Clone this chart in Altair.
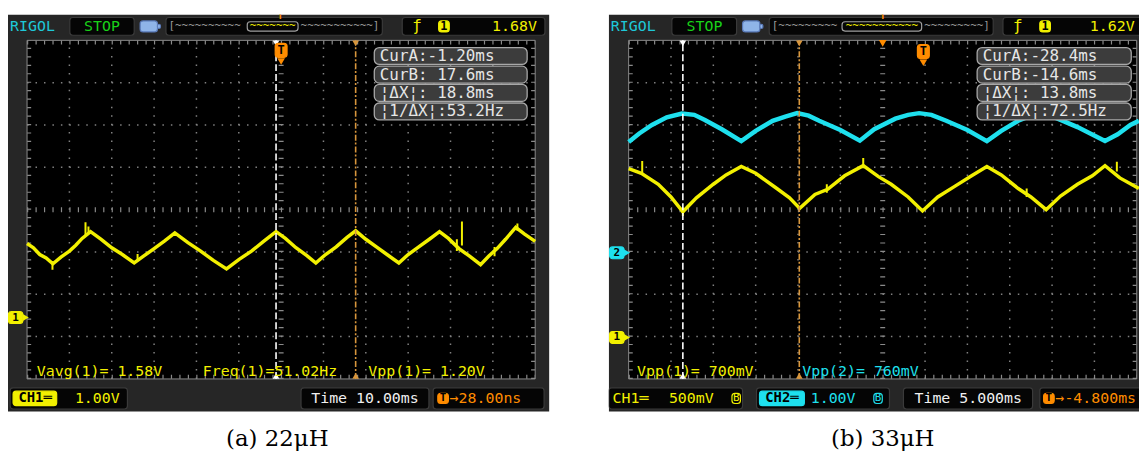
import altair as alt
import pandas as pd

FONT = "DejaVu Sans Mono"
YEL = "#f2f000"
CYAN = "#1ee0ee"
ORANGE = "#ff8c00"
TAN = "#d8963c"

# ================= DATA (in scope grid divisions) =================
# (a) 22 uH : 10 ms/div, CH1 1.00 V/div
a_ch1_t = [-6.00, -5.85, -5.70, -5.55, -5.39, -5.20, -5.00, -4.85, -4.70, -4.50, -4.25, -4.00, -3.75,
           -3.47, -3.25, -3.00, -2.75, -2.51, -2.20, -1.90, -1.60, -1.29, -1.00, -0.70, -0.40, -0.12,
           0.10, 0.35, 0.60, 0.82, 1.05, 1.30, 1.55, 1.76, 2.00, 2.25, 2.50, 2.78, 3.00, 3.25, 3.50,
           3.74, 3.95, 4.20, 4.45, 4.71, 4.90, 5.10, 5.30, 5.54, 5.75, 6.00]
a_ch1_v = [-0.80, -0.90, -1.06, -1.14, -1.28, -1.12, -0.98, -0.84, -0.68, -0.52, -0.70, -0.90, -1.06,
           -1.26, -1.10, -0.92, -0.74, -0.55, -0.78, -0.98, -1.20, -1.40, -1.18, -0.98, -0.74, -0.52,
           -0.68, -0.90, -1.08, -1.26, -1.06, -0.88, -0.66, -0.50, -0.70, -0.88, -1.06, -1.26, -1.06,
           -0.88, -0.70, -0.52, -0.68, -0.92, -1.10, -1.30, -1.10, -0.92, -0.70, -0.42, -0.58, -0.75]
a_spk_t = [-5.40, -4.62, -4.55, -3.39, 4.15, 4.27, 5.04, 5.58]
a_spk_lo = [-1.42, -0.62, -0.55, -1.22, -0.98, -0.85, -1.10, -0.50]
a_spk_hi = [-1.22, -0.30, -0.40, -1.05, -0.70, -0.28, -0.88, -0.33]
a_cursor_t = [-0.12, 1.76]
a_cur_text = ["CurA:-1.20ms", "CurB: 17.6ms", "¦ΔX¦: 18.8ms", "¦1/ΔX¦:53.2Hz"]
a_meas = ["Vavg(1)= 1.58V", "Freq(1)=51.02Hz", "Vpp(1)= 1.20V"]
a_trig = "1.68V"
a_time = "Time 10.00ms"
a_offs = "→28.00ns"
a_caption = "(a) 22μH"

# (b) 33 uH : 5 ms/div, CH1 500 mV/div, CH2 1.00 V/div
b_ch2_t = [-6.00, -5.75, -5.45, -5.10, -4.74, -4.45, -4.20, -3.80, -3.34, -3.00, -2.60, -2.30,
           -2.02, -1.75, -1.50, -1.00, -0.54, -0.20, 0.30, 0.60, 0.86, 1.15, 1.50, 2.00,
           2.46, 2.80, 3.20, 3.50, 3.82, 4.20, 4.60, 5.25, 5.55, 5.85, 6.05]
b_ch2_v = [1.60, 1.80, 2.00, 2.18, 2.27, 2.24, 2.12, 1.90, 1.62, 1.86, 2.10, 2.20,
           2.28, 2.22, 2.10, 1.88, 1.63, 1.90, 2.15, 2.24, 2.28, 2.24, 2.10, 1.88,
           1.62, 1.86, 2.10, 2.22, 2.28, 2.12, 1.95, 1.62, 1.78, 2.00, 2.10]
b_ch1_t = [-6.00, -5.70, -5.30, -5.00, -4.72, -4.40, -4.00, -3.70, -3.34, -3.00, -2.50, -2.20,
           -1.96, -1.60, -1.30, -0.90, -0.46, -0.10, 0.20, 0.60, 0.94, 1.30, 1.70, 2.10,
           2.46, 2.80, 3.20, 3.50, 3.86, 4.20, 4.60, 4.95, 5.25, 5.60, 6.05]
b_ch1_v = [0.97, 0.86, 0.60, 0.30, -0.05, 0.28, 0.60, 0.82, 1.02, 0.86, 0.50, 0.28,
           0.03, 0.36, 0.48, 0.80, 1.04, 0.78, 0.60, 0.30, -0.03, 0.30, 0.55, 0.80,
           1.02, 0.82, 0.50, 0.30, 0.00, 0.32, 0.60, 0.80, 1.04, 0.75, 0.50]
b_spk_t = [-5.68, -4.72, -1.32, -0.46, 3.40, 5.53]
b_spk_lo = [0.85, -0.15, 0.40, 0.98, 0.30, 0.90]
b_spk_hi = [1.15, 0.05, 0.60, 1.22, 0.50, 1.13]
b_cursor_t = [-4.72, -1.97]
b_cur_text = ["CurA:-28.4ms", "CurB:-14.6ms", "¦ΔX¦: 13.8ms", "¦1/ΔX¦:72.5Hz"]
b_meas = ["Vpp(1)= 700mV", "Vpp(2)= 760mV"]
b_trig = "1.62V"
b_time = "Time 5.000ms"
b_offs = "→-4.800ms"
b_caption = "(b) 33μH"

# ================= LAYOUT (scope geometry in divisions) =================
YDOM = [-5.76, 4.61]
HEIGHT = 442
FRAME_Y = (-4.77, 4.61)


def build_panel(P):
    xs = alt.Scale(domain=P["xdom"], nice=False, zero=False)
    ys = alt.Scale(domain=YDOM, nice=False, zero=False)
    X = lambda f: alt.X(f, type="quantitative", scale=xs, axis=None)
    Y = lambda f: alt.Y(f, type="quantitative", scale=ys, axis=None)

    def rects(rows, corner=0, sw=1.0):
        df = pd.DataFrame(rows, columns=["x", "x2", "y", "y2", "fill", "stroke"])
        return alt.Chart(df).mark_rect(cornerRadius=corner, strokeWidth=sw, opacity=1, clip=True).encode(
            x=X("x"), x2="x2", y=Y("y"), y2="y2",
            fill=alt.Fill("fill:N", scale=None), stroke=alt.Stroke("stroke:N", scale=None))

    def rules(rows, color, width, dash=None):
        df = pd.DataFrame(rows, columns=["x", "x2", "y", "y2"])
        kw = dict(color=color, strokeWidth=width, clip=True)
        if dash:
            kw["strokeDash"] = dash
        return alt.Chart(df).mark_rule(**kw).encode(x=X("x"), x2="x2", y=Y("y"), y2="y2")

    def texts(rows, align="left", weight="normal", font=FONT):
        df = pd.DataFrame(rows, columns=["x", "y", "text", "color", "size"])
        return alt.Chart(df).mark_text(align=align, baseline="middle", font=font,
                                       fontWeight=weight, clip=True).encode(
            x=X("x"), y=Y("y"), text="text:N",
            color=alt.Color("color:N", scale=None), size=alt.Size("size:Q", scale=None))

    def points(rows):
        df = pd.DataFrame(rows, columns=["x", "y", "shape", "color", "size"])
        return alt.Chart(df).mark_point(filled=True, opacity=1, strokeWidth=0).encode(
            x=X("x"), y=Y("y"), shape=alt.Shape("shape:N", scale=None),
            color=alt.Color("color:N", scale=None), size=alt.Size("size:Q", scale=None))

    def trace(t, v, color, width):
        df = pd.DataFrame({"t": t, "v": v, "o": range(len(t))})
        return alt.Chart(df).mark_line(color=color, strokeWidth=width, strokeJoin="miter", clip=True).encode(
            x=X("t"), y=Y("v"), order="o:Q")

    def spikes(t, lo, hi, color):
        return rules([(a, a, b, c) for a, b, c in zip(t, lo, hi)], color, 2)

    x0, x1 = P["xdom"]
    L = []
    L.append(rects([(x0, x1 + 1, FRAME_Y[0], FRAME_Y[1], "#262626", "transparent"),
                    (-6, 6, -4, 4, "#000000", "#8a8a8a")]))
    D = 42.6 / 5
    L.append(rules([(k, k, -4, 4) for k in range(-5, 6) if k != 0], "#808080", 1.5, [1.5, D - 1.5]))
    L.append(rules([(-6, 6, k, k) for k in range(-3, 4) if k != 0], "#808080", 1.5, [1.5, D - 1.5]))
    L.append(rules([(-6, 6, 0, 0), (0, 0, -4, 4)], "#8a8a8a", 5, [1.2, D - 1.2]))
    L.append(rules([(-6, 6, 3.95, 3.95), (-6, 6, -3.95, -3.95),
                    (-5.95, -5.95, -4, 4), (5.95, 5.95, -4, 4)], "#8a8a8a", 4, [1.2, D - 1.2]))
    for tr in P["traces"]:
        L.append(trace(tr["t"], tr["v"], tr["color"], tr["w"]))
        if tr.get("spk"):
            L.append(spikes(*tr["spk"], tr["color"]))
    ca, cb = P["cursors"]
    L.append(rules([(ca, ca, -4, 4)], "#ffffff", 1.6, [7, 3]))
    L.append(rules([(cb, cb, -4, 4)], TAN, 1.6, [6, 2, 2, 2]))
    L.append(points([(ca, 3.93, "triangle-down", "#ffffff", 45), (ca, -3.93, "triangle-up", "#ffffff", 45),
                     (cb, 3.93, "triangle-down", TAN, 45), (cb, -3.93, "triangle-up", TAN, 45)]
                    + P["extra_pts"]))
    rows_y = [3.63, 3.19, 2.76, 2.32]
    cx0, cx1 = P["cur_box"]
    L.append(rects([(cx0, cx1, y - 0.2, y + 0.2, "#3c3c3c", "#a8a8a8") for y in rows_y], corner=5, sw=1.3))
    L.append(rects(P["boxes"], corner=3, sw=1.2))
    L.append(texts([(cx0 + 0.13, y, s, "#e6e6e6", 16) for y, s in zip(rows_y, P["cur_text"])]))
    L.append(texts(P["texts_left"]))
    L.append(texts(P["texts_center"], align="center"))
    L.append(texts(P["texts_bold"], align="center", weight="bold"))
    L.append(texts([(P["cap_x"], -5.41, P["caption"], "#000000", 23)], align="center", font="DejaVu Serif"))
    return alt.layer(*L).properties(width=P["width"], height=HEIGHT)


HY0, HY1, HYC = 4.12, 4.54, 4.33        # header row
BY0, BY1, BYC = -4.71, -4.21, -4.46     # bottom bar row
MY = -3.81                               # measurement row
TS = 11                                  # zig-zag size

A = dict(
    xdom=[-6.45, 6.33], width=545,
    traces=[dict(t=a_ch1_t, v=a_ch1_v, color=YEL, w=3.5, spk=(a_spk_t, a_spk_lo, a_spk_hi))],
    cursors=a_cursor_t, cur_box=(2.20, 5.81), cur_text=a_cur_text,
    extra_pts=[(0.0, 3.50, "triangle-down", ORANGE, 60), (-6.03, -2.55, "triangle-right", YEL, 50)],
    boxes=[
        (-4.99, -3.47, HY0, HY1, "#050505", "#3a3a3a"),
        (-3.33, -2.92, 4.20, 4.46, "#8fb4e8", "#5a7ab8"),
        (-2.92, -2.85, 4.28, 4.38, "#8fb4e8", "#5a7ab8"),
        (-2.72, 2.39, HY0, HY1, "#050505", "#3a3a3a"),
        (-0.80, 0.40, 4.22, 4.44, "#050505", "#a0a0a0"),
        (2.86, 6.23, HY0, HY1, "#050505", "#3a3a3a"),
        (3.72, 3.97, 4.20, 4.46, YEL, YEL),
        (-0.14, 0.14, 3.60, 3.93, ORANGE, ORANGE),
        (-6.44, -6.10, -2.69, -2.41, YEL, YEL),
        (-6.40, -3.63, BY0, BY1, "#050505", "#3a3a3a"),
        (-6.33, -5.30, -4.63, -4.29, YEL, YEL),
        (0.47, 3.49, BY0, BY1, "#050505", "#3a3a3a"),
        (3.59, 6.21, BY0, BY1, "#050505", "#3a3a3a"),
        (3.70, 3.95, -4.58, -4.34, ORANGE, ORANGE),
    ],
    texts_left=[
        (-6.40, HYC, "RIGOL", "#1ec8d8", 15),
        (-2.66, HYC, "[" + "~" * 10, "#9a9a9a", TS),
        (0.46, HYC, "~" * 11 + "]", "#9a9a9a", TS),
        (-5.77, MY, a_meas[0], YEL, 15),
        (-1.85, MY, a_meas[1], YEL, 15),
        (2.06, MY, a_meas[2], YEL, 15),
        (-4.87, BYC, "1.00V", YEL, 15),
        (3.98, BYC, a_offs, ORANGE, 15),
    ],
    texts_center=[
        (-4.23, HYC, "STOP", "#19d219", 15),
        (-0.20, HYC, "~" * 7, YEL, TS),
        (3.21, HYC, "ƒ", YEL, 16),
        (5.51, HYC, a_trig, YEL, 15),
        (1.98, BYC, a_time, "#f0f0f0", 15),
    ],
    texts_bold=[
        (-0.02, 4.57, "T", ORANGE, 10),
        (3.845, HYC, "1", "#000000", 12),
        (0.0, 3.77, "T", "#000000", 12),
        (-6.27, -2.55, "1", "#000000", 11),
        (-5.81, BYC, "CH1═", "#000000", 14),
        (3.825, BYC, "T", "#000000", 11),
    ],
    cap_x=-0.09, caption=a_caption,
)

B = dict(
    xdom=[-6.47, 6.053], width=534,
    traces=[dict(t=b_ch2_t, v=b_ch2_v, color=CYAN, w=4.5),
            dict(t=b_ch1_t, v=b_ch1_v, color=YEL, w=3.5, spk=(b_spk_t, b_spk_lo, b_spk_hi))],
    cursors=b_cursor_t, cur_box=(2.23, 5.87), cur_text=b_cur_text,
    extra_pts=[(0.0, 3.93, "triangle-down", ORANGE, 60), (0.96, 3.47, "triangle-down", ORANGE, 60),
               (-6.04, -1.02, "triangle-right", CYAN, 50), (-6.04, -3.02, "triangle-right", YEL, 50)],
    boxes=[
        (-4.98, -3.45, HY0, HY1, "#050505", "#3a3a3a"),
        (-3.31, -2.90, 4.20, 4.46, "#8fb4e8", "#5a7ab8"),
        (-2.90, -2.83, 4.28, 4.38, "#8fb4e8", "#5a7ab8"),
        (-2.68, 2.61, HY0, HY1, "#050505", "#3a3a3a"),
        (-0.96, 0.92, 4.22, 4.44, "#050505", "#a0a0a0"),
        (2.84, 6.60, HY0, HY1, "#050505", "#3a3a3a"),
        (3.71, 3.96, 4.20, 4.46, YEL, YEL),
        (0.82, 1.10, 3.57, 3.90, ORANGE, ORANGE),
        (-6.45, -6.11, -1.16, -0.88, CYAN, CYAN),
        (-6.45, -6.11, -3.16, -2.88, YEL, YEL),
        (-6.47, -3.31, BY0, BY1, "#050505", "#3a3a3a"),
        (-3.56, -3.36, -4.58, -4.34, "transparent", YEL),
        (-2.98, 0.16, BY0, BY1, "#050505", "#3a3a3a"),
        (-2.91, -1.85, -4.63, -4.29, CYAN, CYAN),
        (-0.21, -0.01, -4.58, -4.34, "transparent", CYAN),
        (0.49, 3.54, BY0, BY1, "#050505", "#3a3a3a"),
        (3.71, 6.60, BY0, BY1, "#050505", "#3a3a3a"),
        (3.80, 4.05, -4.58, -4.34, ORANGE, ORANGE),
    ],
    texts_left=[
        (-6.42, HYC, "RIGOL", "#1ec8d8", 15),
        (-2.62, HYC, "[" + "~" * 9, "#9a9a9a", TS),
        (0.98, HYC, "~" * 9 + "]", "#9a9a9a", TS),
        (-5.80, MY, b_meas[0], YEL, 15),
        (-1.90, MY, b_meas[1], CYAN, 15),
        (-6.38, BYC, "CH1═", YEL, 15),
        (-5.05, BYC, "500mV", YEL, 15),
        (-1.70, BYC, "1.00V", CYAN, 15),
        (4.08, BYC, b_offs, ORANGE, 15),
    ],
    texts_center=[
        (-4.21, HYC, "STOP", "#19d219", 15),
        (-0.02, HYC, "~" * 11, YEL, TS),
        (3.19, HYC, "ƒ", YEL, 16),
        (5.42, HYC, b_trig, YEL, 15),
        (-3.46, BYC, "B", YEL, 11),
        (-0.11, BYC, "B", CYAN, 11),
        (2.02, BYC, b_time, "#f0f0f0", 15),
    ],
    texts_bold=[
        (0.0, 4.57, "T", ORANGE, 10),
        (3.835, HYC, "1", "#000000", 12),
        (0.96, 3.74, "T", "#000000", 12),
        (-6.28, -1.02, "2", "#000000", 11),
        (-6.28, -3.02, "1", "#000000", 11),
        (-2.38, BYC, "CH2═", "#000000", 14),
        (3.925, BYC, "T", "#000000", 11),
    ],
    cap_x=0.0, caption=b_caption,
)

chart = alt.hconcat(build_panel(A), build_panel(B), spacing=60).properties(
    padding={"left": 0, "top": 5, "right": 0, "bottom": 0},
    background="white",
).configure_view(stroke=None)

chart.save("out.html", embed_options={"renderer": "svg", "actions": False})
